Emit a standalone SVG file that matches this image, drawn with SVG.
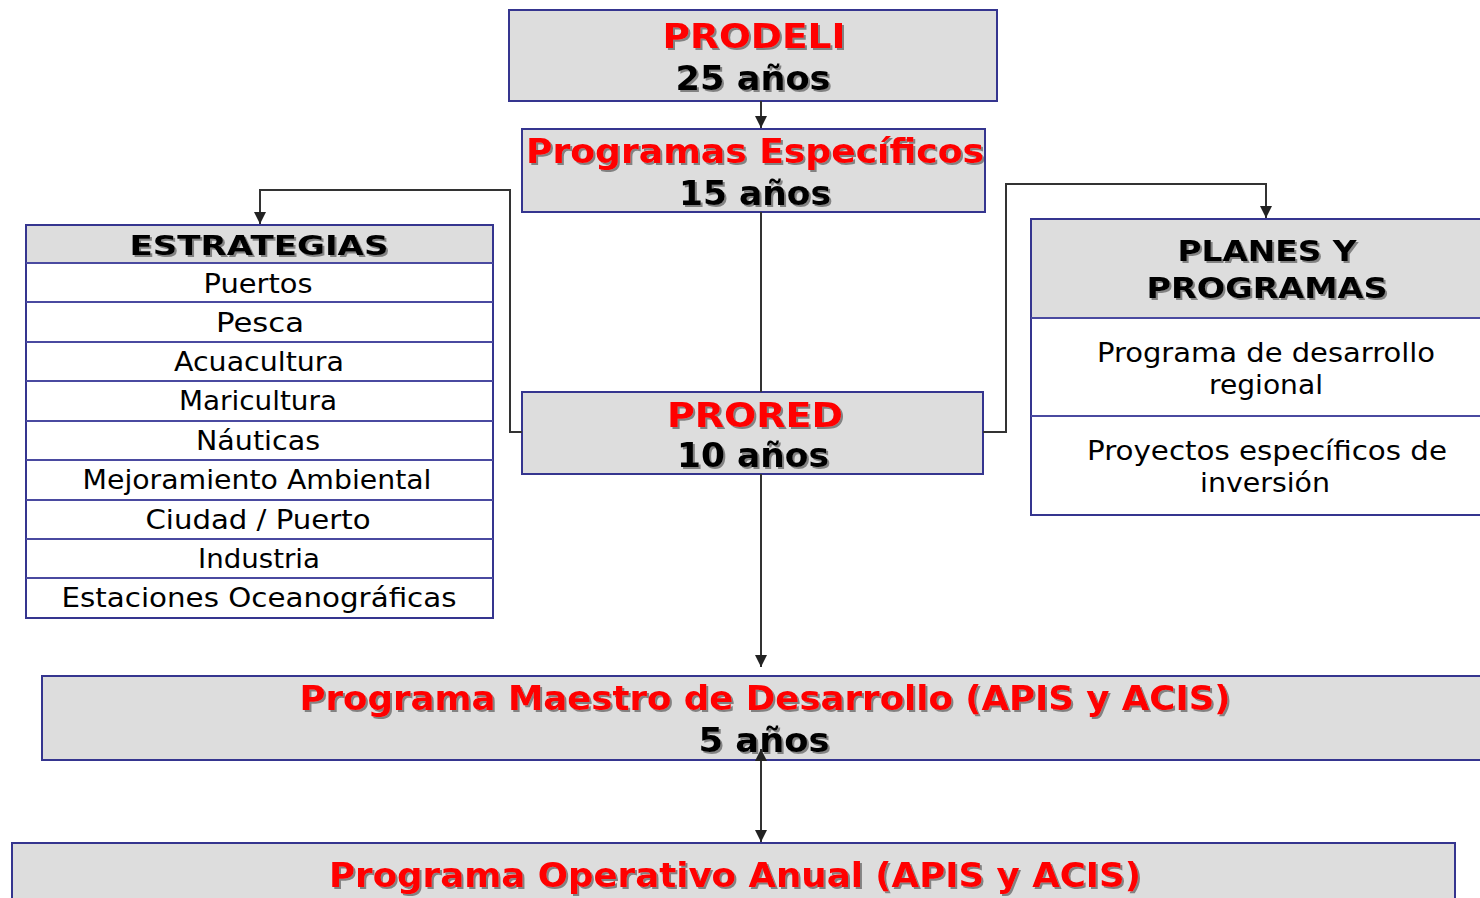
<svg xmlns="http://www.w3.org/2000/svg" width="1480" height="898" viewBox="0 0 1480 898">
<style>
.box{fill:#dddddd;stroke:#35358f;stroke-width:2}
.wbox{fill:#ffffff;stroke:#35358f;stroke-width:2}
.div{stroke:#4a4aa0;stroke-width:2}
.t{font-family:"DejaVu Sans","Liberation Sans",sans-serif;text-anchor:middle;fill:#000}
.red{fill:#ff0000;font-weight:bold;filter:url(#sh)}
.blk{font-weight:bold;filter:url(#sh)}
.big{font-size:34px}
.mid{font-size:29px}
.sm{font-size:26px}
.con{fill:none;stroke:#333333;stroke-width:2}
</style>
<defs>
<filter id="sh" x="-5%" y="-20%" width="110%" height="140%">
<feDropShadow dx="2" dy="2" stdDeviation="0.6" flood-color="#444" flood-opacity="0.6"/>
</filter>
<marker id="ah" markerUnits="userSpaceOnUse" markerWidth="12" markerHeight="12" viewBox="0 0 10 10" refX="10" refY="5" orient="auto-start-reverse">
<path d="M0,0 L10,5 L0,10 z" fill="#222"/>
</marker>
</defs>

<g id="prodeli">
<rect class="box" x="509" y="10" width="488" height="91"/>
<text class="t red big" x="754" y="48" textLength="183" lengthAdjust="spacingAndGlyphs">PRODELI</text>
<text class="t blk big" x="753" y="90" textLength="155" lengthAdjust="spacingAndGlyphs">25 años</text>
</g>

<g id="programas-especificos">
<rect class="box" x="522" y="129" width="463" height="83"/>
<text class="t red big" x="755" y="163" textLength="458" lengthAdjust="spacingAndGlyphs">Programas Específicos</text>
<text class="t blk big" x="755" y="205" textLength="152" lengthAdjust="spacingAndGlyphs">15 años</text>
</g>

<g id="prored">
<rect class="box" x="522" y="392" width="461" height="82"/>
<text class="t red big" x="755" y="427" textLength="176" lengthAdjust="spacingAndGlyphs">PRORED</text>
<text class="t blk big" x="753" y="467" textLength="152" lengthAdjust="spacingAndGlyphs">10 años</text>
</g>

<g id="estrategias">
<rect class="wbox" x="26" y="225" width="467" height="393"/>
<rect x="27" y="226" width="465" height="37" fill="#dddddd"/>
<line class="div" x1="26" y1="263" x2="493" y2="263"/>
<line class="div" x1="26" y1="302" x2="493" y2="302"/>
<line class="div" x1="26" y1="342" x2="493" y2="342"/>
<line class="div" x1="26" y1="381" x2="493" y2="381"/>
<line class="div" x1="26" y1="421" x2="493" y2="421"/>
<line class="div" x1="26" y1="460" x2="493" y2="460"/>
<line class="div" x1="26" y1="500" x2="493" y2="500"/>
<line class="div" x1="26" y1="539" x2="493" y2="539"/>
<line class="div" x1="26" y1="578" x2="493" y2="578"/>
<text class="t blk sm" x="259" y="255" textLength="259" lengthAdjust="spacingAndGlyphs">ESTRATEGIAS</text>
<text class="t sm" x="258" y="293" textLength="109" lengthAdjust="spacingAndGlyphs">Puertos</text>
<text class="t sm" x="260" y="332" textLength="88" lengthAdjust="spacingAndGlyphs">Pesca</text>
<text class="t sm" x="259" y="371" textLength="170" lengthAdjust="spacingAndGlyphs">Acuacultura</text>
<text class="t sm" x="258" y="410" textLength="158" lengthAdjust="spacingAndGlyphs">Maricultura</text>
<text class="t sm" x="258" y="450" textLength="124" lengthAdjust="spacingAndGlyphs">Náuticas</text>
<text class="t sm" x="257" y="489" textLength="349" lengthAdjust="spacingAndGlyphs">Mejoramiento Ambiental</text>
<text class="t sm" x="258" y="529" textLength="225" lengthAdjust="spacingAndGlyphs">Ciudad / Puerto</text>
<text class="t sm" x="259" y="568" textLength="122" lengthAdjust="spacingAndGlyphs">Industria</text>
<text class="t sm" x="259" y="607" textLength="395" lengthAdjust="spacingAndGlyphs">Estaciones Oceanográficas</text>
</g>

<g id="planes-programas">
<rect class="wbox" x="1031" y="219" width="460" height="296"/>
<rect x="1032" y="220" width="450" height="98" fill="#dddddd"/>
<line class="div" x1="1031" y1="318" x2="1480" y2="318"/>
<line class="div" x1="1031" y1="416" x2="1480" y2="416"/>
<text class="t blk mid" x="1267" y="261" textLength="179" lengthAdjust="spacingAndGlyphs">PLANES Y</text>
<text class="t blk mid" x="1267" y="298" textLength="241" lengthAdjust="spacingAndGlyphs">PROGRAMAS</text>
<text class="t sm" x="1266" y="362" textLength="338" lengthAdjust="spacingAndGlyphs">Programa de desarrollo</text>
<text class="t sm" x="1266" y="394" textLength="114" lengthAdjust="spacingAndGlyphs">regional</text>
<text class="t sm" x="1267" y="460" textLength="360" lengthAdjust="spacingAndGlyphs">Proyectos específicos de</text>
<text class="t sm" x="1265" y="492" textLength="130" lengthAdjust="spacingAndGlyphs">inversión</text>
</g>

<g id="programa-maestro">
<rect class="box" x="42" y="676" width="1450" height="84"/>
<text class="t red big" x="765" y="710" textLength="931" lengthAdjust="spacingAndGlyphs">Programa Maestro de Desarrollo (APIS y ACIS)</text>
<text class="t blk big" x="764" y="752" textLength="131" lengthAdjust="spacingAndGlyphs">5 años</text>
</g>

<g id="programa-operativo">
<rect class="box" x="12" y="843" width="1443" height="70"/>
<text class="t red big" x="735" y="887" textLength="812" lengthAdjust="spacingAndGlyphs">Programa Operativo Anual (APIS y ACIS)</text>
</g>

<g id="connectors">
<path class="con" d="M761,101 V128" marker-end="url(#ah)"/>
<path class="con" d="M761,212 V392"/>
<path class="con" d="M761,474 V667" marker-end="url(#ah)"/>
<path class="con" d="M522,432 H510 V190 H260 V224" marker-end="url(#ah)"/>
<path class="con" d="M983,432 H1006 V184 H1266 V218" marker-end="url(#ah)"/>
<path class="con" d="M761,749 V842" marker-start="url(#ah)" marker-end="url(#ah)"/>
</g>
</svg>
